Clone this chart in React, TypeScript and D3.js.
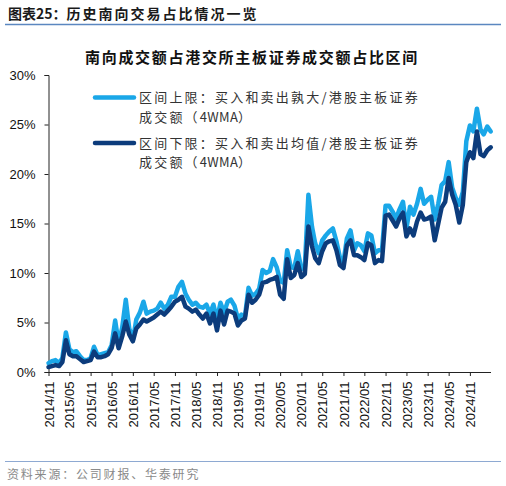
import React, { useEffect, useRef } from "react";
import * as d3 from "d3";

// monthly points, 2014/11 .. 2025/05
const startMonth = new Date(2014, 10, 1);
const upperBound = [
  0.9, 1.1, 1.2, 0.9, 1.4, 4.0, 2.3, 2.0, 2.1, 1.6, 1.2, 1.2,
  1.4, 2.55, 1.7, 1.8, 1.9, 2.0, 2.7, 5.2, 2.9, 4.5, 7.3, 4.4,
  3.2, 5.3, 6.0, 7.1, 5.9, 6.1, 6.2, 6.4, 7.0, 6.4, 6.8, 7.6,
  7.6, 8.6, 9.1, 7.9, 7.3, 6.8, 7.0, 6.6, 6.5, 6.8, 5.9, 6.8,
  5.3, 7.0, 6.0, 7.1, 7.3, 6.7, 5.4, 5.8, 5.6, 8.5, 7.7, 7.9,
  8.4, 10.3, 10.0, 10.2, 11.4, 10.6, 9.2, 9.0, 12.3, 10.6, 10.5, 12.2,
  10.4, 10.6, 17.9, 14.7, 13.0, 12.0, 13.3, 13.8, 14.2, 14.5, 13.2, 11.6,
  11.1, 13.5, 14.3, 12.3, 13.0, 12.8, 12.2, 14.0, 13.8, 12.0, 12.3, 12.3,
  16.8, 16.8, 16.2, 15.5, 16.4, 17.2, 14.5, 16.7, 15.9, 17.0, 18.5, 17.0,
  17.4, 17.7, 15.4, 17.0, 18.9, 19.3, 21.2, 18.6, 17.6, 16.9, 18.2, 23.3,
  24.9, 24.3, 26.6, 24.5, 24.0, 24.8, 24.3,
];
const lowerBound = [
  0.5, 0.6, 0.7, 0.6, 1.0, 3.2, 1.8, 1.6, 1.6, 1.3, 1.0, 1.1,
  1.2, 2.05, 1.5, 1.5, 1.6, 1.8, 2.4, 3.9, 2.4, 3.6, 5.1, 3.8,
  3.1, 4.4, 4.8, 5.3, 5.1, 5.3, 5.5, 5.8, 6.1, 5.8, 6.2, 6.6,
  7.1, 7.3, 7.6, 6.6, 6.4, 6.1, 6.3, 5.8, 5.4, 5.9, 4.9, 5.9,
  4.2, 6.2, 4.8, 6.2, 6.1, 5.9, 4.7, 5.2, 5.4, 7.8, 7.0, 7.3,
  7.8, 9.0, 9.1, 9.3, 9.4, 9.6, 7.8, 7.4, 11.4, 9.5, 9.8, 11.0,
  9.6, 9.9, 14.7, 12.7, 11.5, 11.0, 12.2, 13.0, 13.2, 13.3, 12.3, 10.8,
  10.5, 12.8, 13.3, 11.8, 11.8, 11.6, 11.3, 13.0, 12.8, 11.0, 11.3, 11.2,
  15.8, 15.9, 15.3, 14.7, 15.5, 16.1, 13.7, 14.5, 13.8, 15.2, 16.1, 15.4,
  15.5, 15.7, 13.3, 15.0, 16.6, 17.2, 19.6, 17.9, 16.9, 15.1, 16.9, 21.2,
  22.2, 21.6, 24.3, 22.0, 21.8, 22.4, 22.7,
];
const months = upperBound.map((_, i) => d3.timeMonth.offset(startMonth, i));
const yTicks = [0, 5, 10, 15, 20, 25, 30];

const seriesNames = [
  ["区间上限：买入和卖出孰大/港股主板证券", "成交额（4WMA）"],
  ["区间下限：买入和卖出均值/港股主板证券", "成交额（4WMA）"],
];
const seriesColors = ["#1AA7E8", "#0C3C7C"];

const cjk = "'Noto Sans CJK SC', 'Noto Sans', sans-serif";
const latin = "'Liberation Sans', Arial, sans-serif";

const Chart: React.FC<{ width: number; height: number }> = ({ width, height }) => {
  const svgRef = useRef<SVGSVGElement | null>(null);

  useEffect(() => {
    if (!svgRef.current) return;
    const svg = d3.select(svgRef.current);
    svg.selectAll("*").remove();

    const margin = { top: 75, right: 15, bottom: 114, left: 48.5 };
    const innerHeight = height - margin.top - margin.bottom;

    const x = d3.scaleTime()
      .domain([months[0], months[months.length - 1]])
      .range([margin.left, margin.left + 126 * 3.51]);
    const y = d3.scaleLinear().domain([0, 30]).range([margin.top + innerHeight, margin.top]);

    // header
    svg.append("text")
      .attr("x", 8).attr("y", 19)
      .attr("font-family", cjk).attr("font-size", 14).attr("font-weight", "bold")
      .attr("fill", "#1a1a1a")
      .call(t => {
        t.append("tspan").text("图表25：");
        t.append("tspan").attr("letter-spacing", 2).text("历史南向交易占比情况一览");
      });
    svg.append("line")
      .attr("x1", 5).attr("x2", 501).attr("y1", 24.5).attr("y2", 24.5)
      .attr("stroke", "#5B87C0").attr("stroke-width", 1.5);

    svg.append("text")
      .attr("x", 252).attr("y", 63).attr("text-anchor", "middle")
      .attr("font-family", cjk).attr("font-size", 15).attr("font-weight", "bold")
      .attr("letter-spacing", 1.7).attr("fill", "#111")
      .text("南向成交额占港交所主板证券成交额占比区间");

    // axes
    const yAxis = svg.append("g")
      .attr("transform", `translate(${margin.left},0)`)
      .call(d3.axisLeft(y).tickValues(yTicks).tickSize(4).tickPadding(9).tickFormat(d => `${d}%`));
    yAxis.select(".domain").attr("stroke", "#222");
    yAxis.selectAll("line").attr("stroke", "#222");
    yAxis.selectAll("text").attr("font-family", latin).attr("font-size", 13).attr("fill", "#111");

    const xTicks = months.filter((_, i) => i % 6 === 0 && i <= 120);
    const xAxis = svg.append("g")
      .attr("transform", `translate(0,${margin.top + innerHeight})`)
      .call(d3.axisBottom(x).tickValues(xTicks).tickSize(4).tickSizeOuter(0).tickFormat(d3.timeFormat("%Y/%m") as any));
    xAxis.select(".domain").attr("d", `M${margin.left},0.5H491`).attr("stroke", "#222");
    xAxis.selectAll("line").attr("stroke", "#222");
    xAxis.selectAll("text")
      .attr("font-family", latin).attr("font-size", 13).attr("fill", "#111")
      .attr("transform", "rotate(-90)")
      .attr("x", -9.5).attr("y", 0).attr("dy", "0.35em")
      .style("text-anchor", "end");

    // lines
    const line = d3.line<number>()
      .x((_, i) => x(months[i]))
      .y(d => y(d));
    [upperBound, lowerBound].forEach((vals, k) => {
      svg.append("path")
        .datum(vals)
        .attr("d", line)
        .attr("fill", "none")
        .attr("stroke", seriesColors[k])
        .attr("stroke-width", 4.5)
        .attr("stroke-linejoin", "round")
        .attr("stroke-linecap", "round");
    });

    // legend
    const legendY = [97.5, 143];
    seriesNames.forEach((lines, k) => {
      svg.append("line")
        .attr("x1", 95).attr("x2", 134).attr("y1", legendY[k]).attr("y2", legendY[k])
        .attr("stroke", seriesColors[k]).attr("stroke-width", 4.5).attr("stroke-linecap", "round");
      lines.forEach((txt, j) => {
        const t = svg.append("text")
          .attr("x", 139).attr("y", legendY[k] + 4.5 + j * 19.5)
          .attr("font-family", cjk).attr("font-size", 13)
          .attr("fill", "#333");
        // latin part without the wide CJK spacing
        txt.split(/([0-9A-Za-z]+)/).filter(s => s).forEach(part => {
          t.append("tspan")
            .attr("letter-spacing", /[0-9A-Za-z]/.test(part) ? 0.3 : 2.2)
            .text(part);
        });
      });
    });

    // footer
    svg.append("line")
      .attr("x1", 5).attr("x2", 501).attr("y1", 461.5).attr("y2", 461.5)
      .attr("stroke", "#8EA9D2").attr("stroke-width", 1.2);
    svg.append("text")
      .attr("x", 7).attr("y", 478.5)
      .attr("font-family", cjk).attr("font-size", 12).attr("letter-spacing", 1.8)
      .attr("fill", "#8a8a8a")
      .text("资料来源：公司财报、华泰研究");
  }, [width, height]);

  return <svg ref={svgRef} width={width} height={height} style={{ display: "block", background: "#fff" }} />;
};

export default function App() {
  return (
    <div style={{ position: "absolute", left: 0, top: 0 }}>
      <Chart width={506} height={486} />
    </div>
  );
}
